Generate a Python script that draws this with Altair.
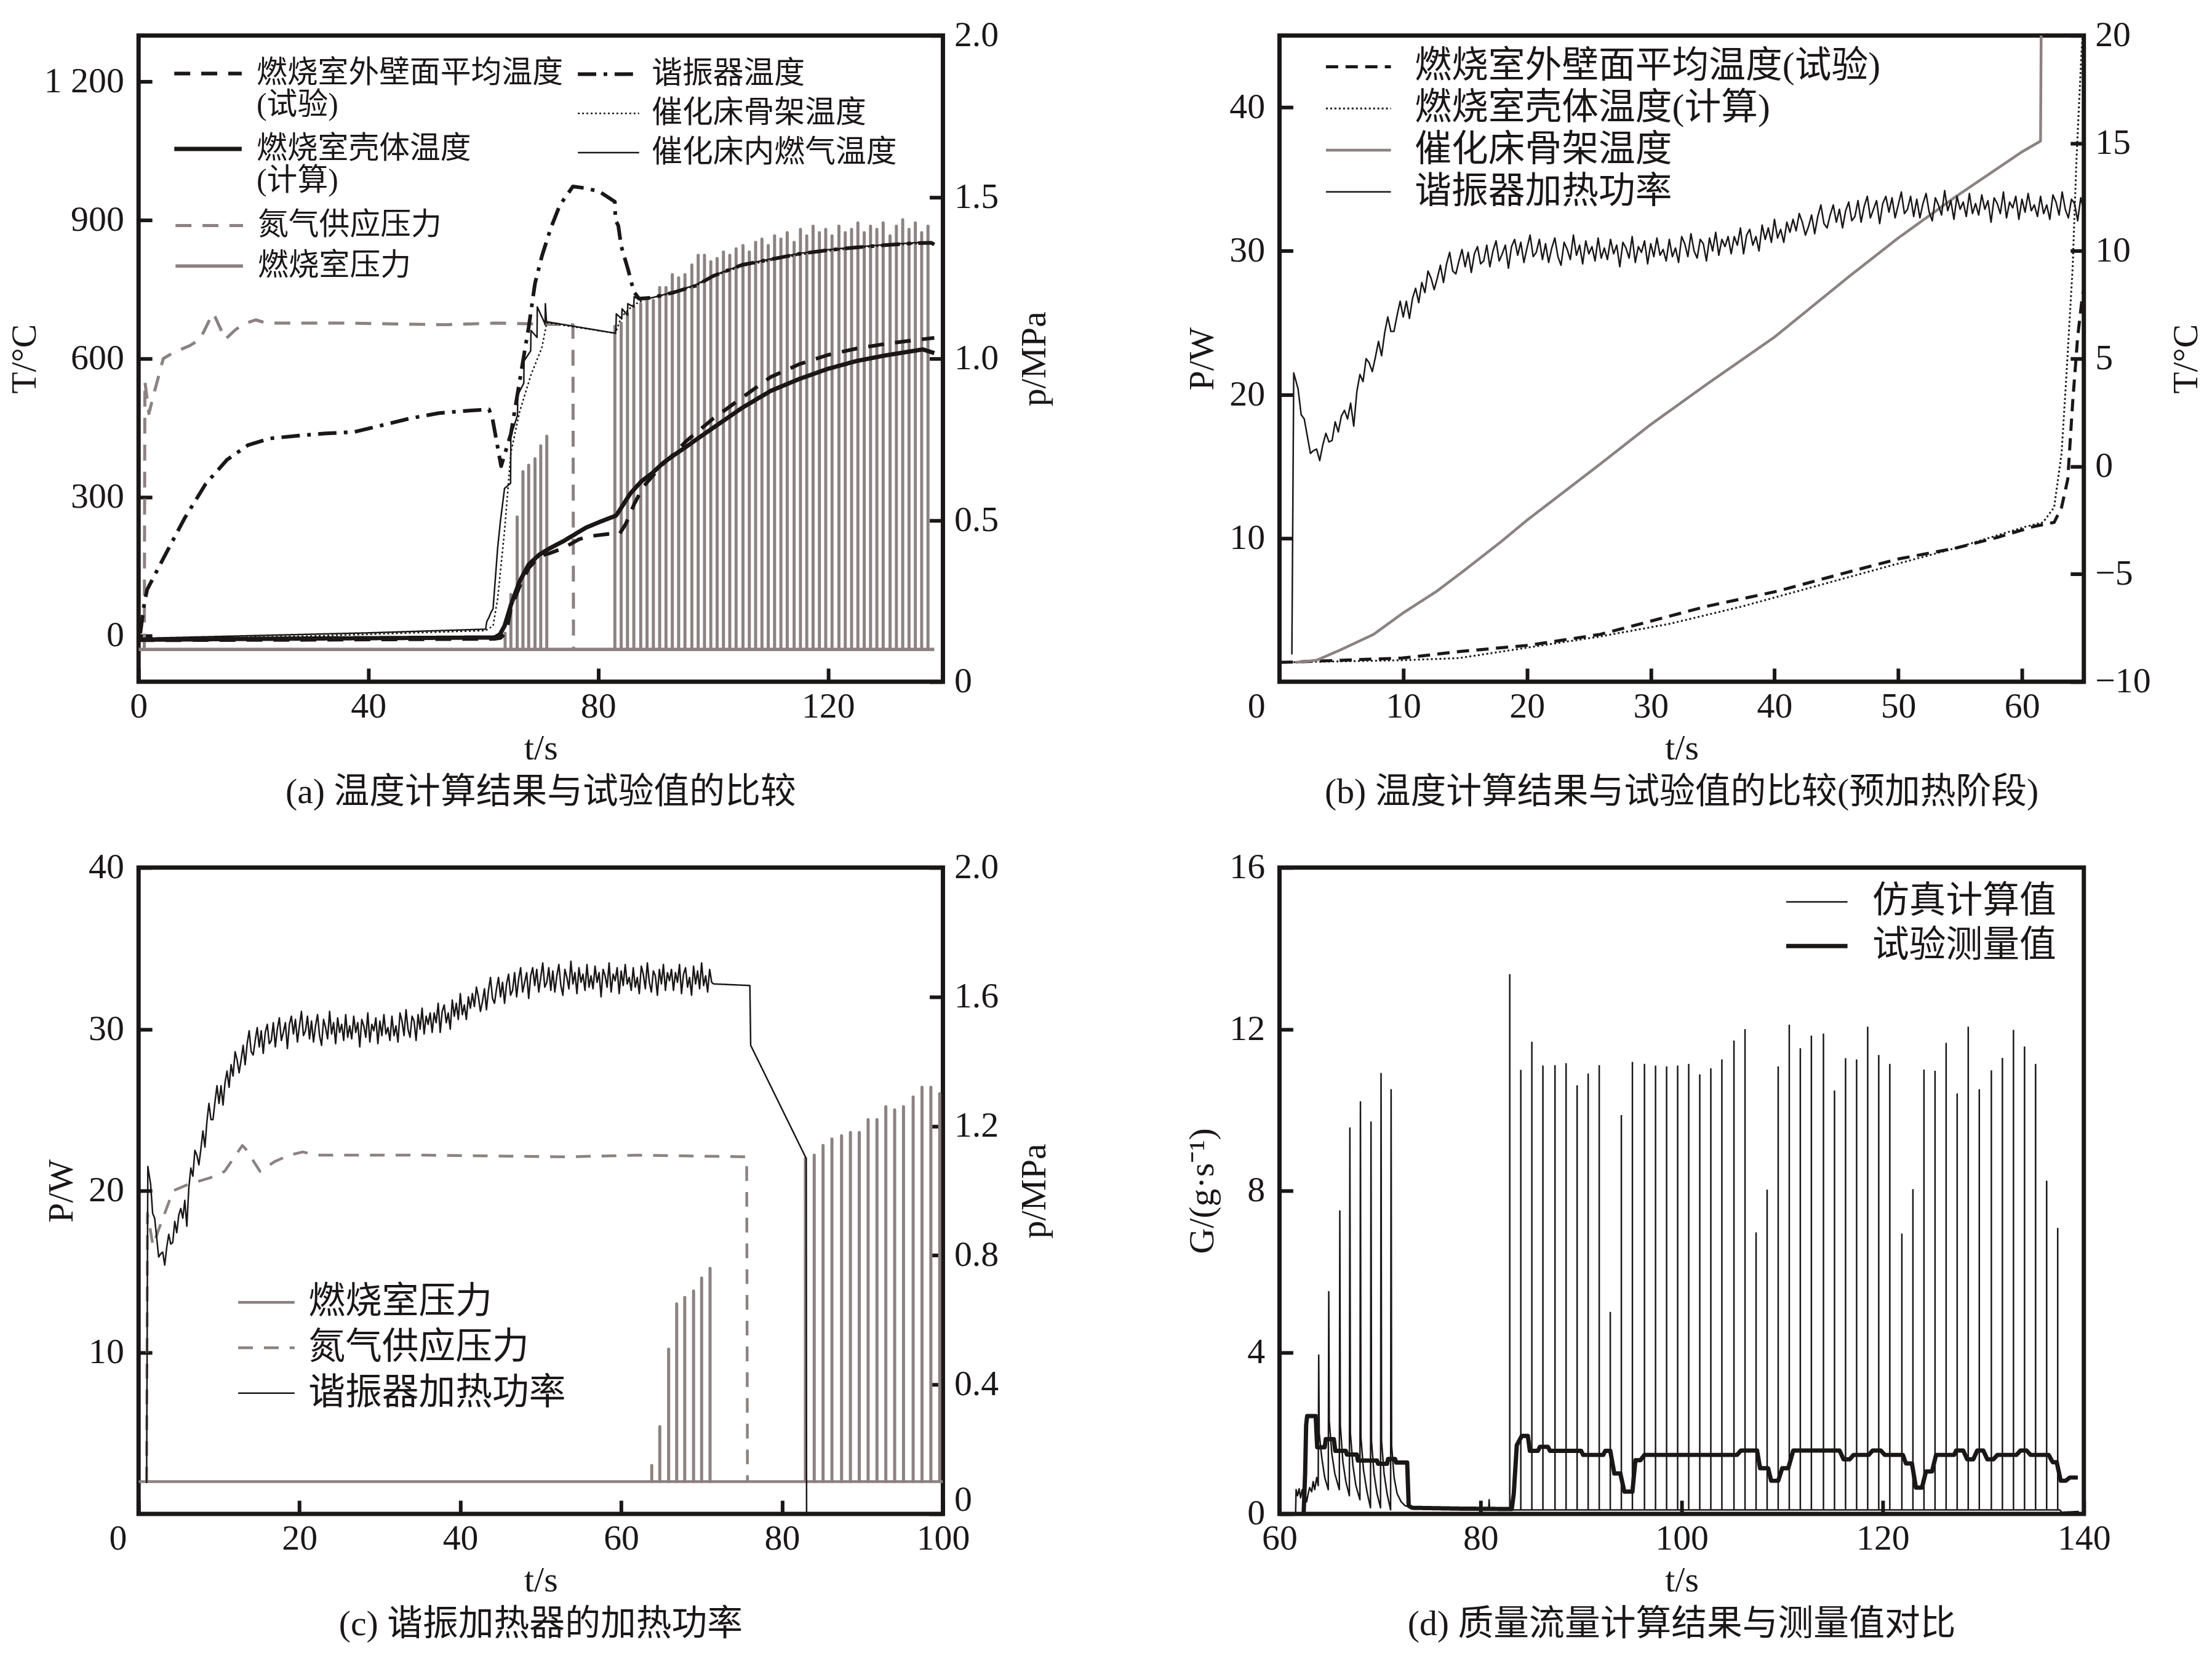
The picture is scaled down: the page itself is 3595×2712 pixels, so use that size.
import altair as alt
import pandas as pd

FONT = "Liberation Serif, Noto Sans CJK SC, serif"
BLACK = "#1b1717"
GRAY = "#8b8281"

# ---------------- shared measured signals ----------------
# resonator heating power P/W (panels b and c), sampled every 0.25 s from 1.5 s to 71.5 s
power_t = [1.0, 1.15] + [1.5 + 0.25 * k for k in range(281)] + [76.0, 76.1, 83.0, 83.05]
power_w = [1.9, 21.5,
    20.4, 18.6, 18.3, 17.1, 15.9, 16.1, 16.2, 15.4, 16.5, 17.3, 16.7, 16.8, 18.1, 17.4, 18.5, 18.9, 18.3, 19.4, 17.8, 20.2,
    21.4, 20.9, 22.5, 22.2, 21.6, 22.6, 23.7, 22.7, 24.3, 25.4, 24.4, 24.4, 25.5, 26.5, 25.4, 26.5, 25.3, 26.7, 27.4, 26.4,
    27.8, 27.1, 28.6, 28.1, 27.3, 28.1, 29.0, 27.8, 29.1, 29.9, 28.6, 28.4, 29.3, 30.1, 28.9, 29.9, 28.5, 29.8, 30.3, 29.1,
    29.3, 30.4, 28.9, 30.0, 30.7, 29.3, 29.8, 30.4, 28.8, 30.3, 30.8, 29.7, 30.6, 29.2, 30.2, 31.1, 29.6, 29.9, 30.8, 29.4,
    30.5, 29.2, 30.2, 30.9, 29.6, 29.0, 30.6, 30.1, 29.4, 31.1, 29.7, 30.4, 29.1, 30.7, 29.8, 30.3, 29.3, 30.9, 29.5, 30.2,
    29.4, 30.8, 29.8, 30.4, 28.9, 30.6, 30.2, 29.5, 31.0, 29.2, 30.3, 29.9, 30.7, 29.1, 30.5, 29.6, 30.9, 29.7, 30.1, 29.3,
    30.8, 29.6, 30.2, 29.2, 31.0, 30.5, 29.6, 31.2, 30.0, 29.5, 30.8, 30.5, 29.3, 30.9, 30.0, 31.3, 29.7, 30.8, 30.3, 31.0,
    29.8, 31.0, 30.4, 31.6, 29.8, 31.1, 31.5, 30.4, 31.0, 30.0, 31.8, 30.8, 31.6, 30.6, 32.2, 30.9, 31.5, 30.6, 32.0, 31.3,
    32.2, 31.4, 32.6, 32.0, 31.1, 31.7, 32.5, 31.2, 32.4, 33.2, 31.9, 31.6, 32.5, 33.2, 32.0, 32.9, 31.6, 32.8, 33.4, 32.1,
    32.4, 33.5, 32.0, 33.1, 33.8, 32.3, 32.9, 33.5, 31.9, 33.3, 33.8, 32.7, 33.7, 32.3, 33.2, 34.1, 32.6, 32.9, 33.8, 32.4,
    33.6, 32.3, 33.3, 34.0, 32.7, 32.1, 33.7, 33.2, 32.5, 34.2, 32.8, 33.5, 32.2, 33.8, 32.9, 33.4, 32.4, 34.0, 32.6, 33.3,
    32.5, 33.9, 32.9, 33.5, 32.0, 33.7, 33.3, 32.6, 34.1, 32.3, 33.4, 33.0, 33.8, 32.2, 33.6, 32.7, 34.0, 32.8, 33.2, 32.4,
    33.8, 32.6, 33.2, 32.2, 33.9, 33.4, 32.5, 34.1, 32.9, 32.3, 33.6, 33.3, 32.1, 33.7, 32.8, 34.0, 32.4, 33.5, 33.0, 33.7,
    32.4, 33.5, 32.9, 34.0, 32.2, 33.4, 33.8, 32.6, 33.2, 32.1, 33.9, 32.8, 33.6, 32.5, 34.1, 32.7, 33.3, 32.3, 33.7, 32.9,
    32.8,
    32.7, 29.0, 22.0, 0.0]

# nitrogen supply pressure p/MPa (panels a and c)
n2_t = [1.0, 1.1, 1.8, 2.5, 4.3, 6.2, 8.9, 10.7, 12.9, 13.3, 15.1, 16.9, 18.7,
        20.4, 22.2, 35.6, 53.3, 62.2, 75.6, 75.7]
n2_p = [0.10, 0.93, 0.83, 0.88, 1.00, 1.02, 1.04, 1.06, 1.14, 1.13, 1.06, 1.09, 1.11,
        1.12, 1.11, 1.11, 1.105, 1.11, 1.105, 0.10]

# combustion chamber pressure: baseline and pulses p/MPa
P_BASE = 0.1
cp_t = [0.0, 138.5]
cp_p = [0.1, 0.1]
pulse_t = [63.8, 64.8, 65.9, 66.9, 67.9, 69.0, 70.0, 71.05,
           82.9, 84.0, 85.1, 86.2, 87.4, 88.5, 89.6, 90.7, 91.8, 92.9,
           94.0, 95.1, 96.3, 97.4, 98.5, 99.6, 100.7, 101.8, 102.9, 104.0,
           105.2, 106.3, 107.4, 108.5, 109.6, 110.7, 111.8, 112.9, 114.1, 115.2,
           116.3, 117.4, 118.5, 119.6, 120.7, 121.9, 123.0, 124.1, 125.2, 126.3,
           127.4, 128.5, 129.6, 130.8, 131.9, 133.0, 134.1, 135.2, 136.3, 137.4]
pulse_p = [0.15, 0.27, 0.51, 0.65, 0.67, 0.69, 0.73, 0.76,
           1.10, 1.11, 1.14, 1.16, 1.17, 1.18, 1.18, 1.22, 1.22, 1.26,
           1.25, 1.26, 1.29, 1.32, 1.32, 1.30, 1.31, 1.33, 1.32, 1.34,
           1.35, 1.33, 1.36, 1.37, 1.35, 1.38, 1.37, 1.39, 1.36, 1.40,
           1.38, 1.41, 1.39, 1.40, 1.38, 1.41, 1.39, 1.40, 1.42, 1.39,
           1.41, 1.40, 1.42, 1.38, 1.41, 1.43, 1.40, 1.42, 1.39, 1.41]

# ---------------- panel (a) temperatures T/°C ----------------
wall_exp_t = [0, 30, 62, 63.0, 64.0, 64.8, 66.3, 67.9, 69.8, 71.7, 74.0, 76.7, 79.0, 81.7,
              83.7, 84.8, 86.3, 87.9, 89.4, 91.3, 93.3, 95.2, 97.1, 100, 105, 110, 115,
              120, 125, 130, 135, 138.5]
wall_exp_T = [-10, -9, -7, -5, 7, 58, 106, 146, 172, 179, 190, 209, 216, 220,
              220, 242, 286, 323, 345, 372, 395, 420, 440, 470, 515, 560, 588,
              608, 622, 632, 640, 645]
shell_calc_t = [0, 20, 40, 62.0, 62.9, 63.7, 64.8, 66.3, 67.9, 69.8, 71.7, 74.0, 76.0, 77.9,
                80.2, 83.1, 83.7, 85.6, 87.5, 89.4, 91.3, 93.3, 95.2, 97.1, 100, 105, 110,
                115, 120, 125, 130, 134, 136.5, 138.5]
shell_calc_T = [-9, -7, -5.5, -4, 3, 21, 66, 117, 154, 176, 190, 205, 220, 234,
                246, 260, 271, 308, 334, 352, 374, 392, 408, 425, 450, 493, 530,
                556, 578, 595, 607, 615, 620, 612]
reson_t = [0.3, 1.0, 1.5, 4.3, 8.0, 11.7, 15.4, 19.1, 22.8, 27.7, 32.6, 37.5, 42.5, 47.4,
           52.3, 57.2, 61.0, 61.6, 63.1, 64.8, 66.9, 67.9, 69.0, 70.2, 71.7, 73.3, 75.6,
           77.9, 80.2, 82.9, 83.0, 83.5, 84.0, 85.2, 86.2, 87.1, 89.4, 93.3, 97, 100,
           105, 110, 115, 120, 125, 130, 135, 138, 138.5]
reson_T = [5, 70, 100, 167, 254, 329, 381, 413, 427, 433, 438, 441, 456, 471,
           482, 487, 490, 470, 367, 437, 594, 668, 763, 822, 881, 932, 973,
           969, 962, 940, 900, 888, 844, 793, 745, 730, 732, 744, 758, 779,
           803, 815, 827, 835, 841, 846, 850, 851, 847]
frame_t = [0, 30, 60.4, 61.7, 62.5, 63.7, 64.8, 66.3, 68.3, 70.2, 70.9, 71.0, 83.0,
           84, 86, 88, 93.3, 97, 100, 105, 110, 115, 120, 125, 130, 135, 138, 138.5]
frame_T = [-8, -1, 11, 21, 80, 227, 396, 484, 565, 624, 668, 678, 655,
           690, 715, 728, 743, 758, 778, 800, 813, 825, 833, 840, 845, 849, 850, 846]
gas_t = [0, 20, 40, 60.4, 60.6, 61.0, 61.4, 61.7, 62.5, 63.0, 63.7, 64.75, 64.8, 65.95,
         66.0, 67.05, 67.1, 68.25, 68.3, 69.35, 69.4, 70.75, 70.8, 71.0, 83.0, 83.1,
         83.15, 84.1, 84.15, 85.1, 85.15, 86.2, 86.25, 87.3, 89.4, 93.3, 97, 100, 105,
         110, 115, 120, 125, 130, 135, 138, 138.5]
gas_T = [-6, 0, 6, 14, 30, 40, 52, 58, 190, 250, 319, 330, 433, 477,
         521, 547, 595, 617, 661, 646, 712, 675, 719, 680, 655, 668,
         697, 686, 708, 694, 719, 712, 734, 727, 732, 745, 760, 780, 803,
         816, 828, 836, 842, 847, 851, 852, 848]

# ---------------- panel (b) pre-heating temperatures T/°C ----------------
b_wall_t = [0.1, 9.9, 14.5, 20.2, 25.9, 29.9, 34.5, 40.2, 46.0, 50.0, 54.6, 58.0, 60.9,
            62.6, 63.2, 63.7, 64.1, 64.5, 64.9, 65.2]
b_wall_T = [-9.1, -8.9, -8.6, -8.3, -7.8, -7.2, -6.5, -5.8, -4.9, -4.3, -3.8, -3.3, -2.8,
            -2.6, -1.9, -0.6, 3.0, 6.0, 8.0, 8.5]
b_shell_t = [0.1, 9.9, 14.5, 20.2, 25.9, 31.6, 37.4, 43.1, 48.8, 54.6, 60.3, 61.7, 62.6,
             63.2, 63.6, 64.1, 64.4, 64.8, 64.9, 65.2]
b_shell_T = [-9.1, -9.0, -8.9, -8.4, -7.9, -7.3, -6.5, -5.6, -4.7, -3.8, -2.8, -2.6, -1.9,
             0.6, 4.3, 9.3, 14.2, 19.1, 20.0, 22.0]
b_frame_t = [1.3, 3.0, 5.0, 7.6, 10.0, 12.7, 15.0, 17.9, 20.0, 25.9, 29.9, 34.5, 40.0,
             46.0, 50.0, 54.6, 60.0, 61.5, 61.6]
b_frame_T = [-9.1, -9.0, -8.5, -7.8, -6.8, -5.8, -4.8, -3.5, -2.5, 0.1, 1.9, 3.8, 6.0,
             8.8, 10.6, 12.5, 14.6, 15.1, 25.0]

# ---------------- panel (d) mass flow G/(g/s) ----------------
sim_t = [61.6, 61.65, 61.8, 61.95, 62.1, 62.25, 62.4, 62.55, 62.7, 62.85, 63.0, 63.2, 63.35,
         63.5, 63.7, 63.85,
         63.9, 63.95, 64.2, 64.5, 64.85,
         64.9, 64.95, 65.2, 65.5, 65.95,
         66.0, 66.05, 66.3, 66.6, 66.95,
         67.0, 67.05, 67.3, 67.6, 68.0,
         68.05, 68.1, 68.35, 68.7, 69.05,
         69.1, 69.15, 69.4, 69.7, 70.05,
         70.1, 70.15, 70.4, 70.7, 71.05,
         71.1, 71.15, 71.4, 71.7, 72.1, 72.5, 73.0, 76.0, 80.8, 80.85, 80.9, 82.85,
         137.6, 137.8, 139.5]
sim_G = [0.0, 0.6, 0.45, 0.62, 0.4, 0.6, 0.35, 0.5, 0.3, 0.5, 0.65, 0.55, 0.8,
         0.6, 0.9, 0.7,
         3.93, 2.0, 1.4, 0.9, 0.6,
         5.5, 2.3, 1.5, 1.0, 0.6,
         7.5, 2.2, 1.3, 0.8, 0.45,
         9.55, 2.0, 1.2, 0.7, 0.35,
         10.2, 1.9, 1.1, 0.55, 0.15,
         9.7, 1.8, 1.0, 0.5, 0.15,
         10.9, 1.8, 1.0, 0.5, 0.1,
         10.5, 1.7, 0.9, 0.5, 0.3, 0.2, 0.17, 0.15, 0.12, 0.35, 0.12, 0.1,
         0.1, 0.04, 0.06]
G_BASE = 0.1
spike_t = pulse_t[8:]
spike_G = [13.36, 10.99, 11.69, 11.10, 11.11, 11.16, 10.61, 10.90, 11.11, 5.0,
           9.87, 11.19, 11.14, 11.10, 11.08, 11.10, 11.14, 10.88, 11.03, 11.25,
           11.72, 12.0, 6.97, 8.03, 11.08, 12.11, 11.53, 11.84, 11.89, 10.48,
           11.28, 11.25, 12.06, 11.36, 11.14, 6.94, 8.04, 11.0, 10.97, 11.66,
           10.41, 12.06, 10.51, 10.98, 11.29, 11.98, 11.57, 11.14, 8.25, 7.08]
exp_t = [62.4, 62.55, 62.65, 62.75, 63.6, 63.7, 63.75, 64.5, 64.6, 65.4, 65.55, 66.6, 66.7,
         67.7, 67.8, 69.7, 69.8, 70.7, 70.8, 71.5, 71.6, 72.7, 72.85, 73.2, 78.0, 83.1,
         83.3, 83.6, 84.1, 84.7, 84.9, 85.7, 85.9, 86.7, 86.9, 90.0, 90.2, 92.2, 92.4,
         92.9, 93.3, 93.9, 94.3, 95.1, 95.4, 95.9, 96.3, 105.5, 105.9, 107.5, 107.8,
         108.6, 108.9, 109.6, 110.0, 110.6, 111.1, 115.7, 116.1, 116.7, 117.1, 118.6,
         119.0, 119.8, 120.2, 122.0, 122.3, 122.9, 123.3, 123.9, 124.3, 124.9, 125.3,
         127.1, 127.3, 128.0, 128.4, 129.0, 129.4, 130.0, 130.4, 131.0, 131.4, 133.3,
         133.7, 134.3, 134.7, 136.5, 136.9, 137.3, 137.7, 138.2, 138.6, 139.4]
exp_G = [0.0, 1.0, 2.2, 2.42, 2.42, 1.9, 1.65, 1.65, 1.85, 1.85, 1.56, 1.56, 1.47,
         1.47, 1.32, 1.32, 1.24, 1.24, 1.36, 1.36, 1.27, 1.27, 0.2, 0.15, 0.13, 0.12,
         0.5, 1.7, 1.93, 1.93, 1.56, 1.56, 1.66, 1.66, 1.56, 1.56, 1.46, 1.46, 1.56,
         1.56, 1.0, 1.0, 0.55, 0.55, 1.33, 1.33, 1.46, 1.46, 1.57, 1.57, 1.13,
         1.13, 0.82, 0.82, 1.13, 1.13, 1.57, 1.57, 1.35, 1.35, 1.46, 1.46,
         1.57, 1.57, 1.46, 1.46, 1.25, 1.25, 0.65, 0.65, 1.05, 1.05, 1.46,
         1.46, 1.57, 1.57, 1.35, 1.35, 1.57, 1.57, 1.35, 1.35, 1.46, 1.46,
         1.57, 1.57, 1.46, 1.46, 1.28, 1.28, 0.82, 0.82, 0.90, 0.90]

# ---------------- labels ----------------
A_WALL = "燃烧室外壁面平均温度|(试验)"
A_SHELL = "燃烧室壳体温度|(计算)"
A_RES = "谐振器温度"
A_FRAME = "催化床骨架温度"
A_GAS = "催化床内燃气温度"
N2 = "氮气供应压力"
CP = "燃烧室压力"
B_WALL = "燃烧室外壁面平均温度(试验)"
B_SHELL = "燃烧室壳体温度(计算)"
B_FRAME = "催化床骨架温度"
POWER = "谐振器加热功率"
SIM = "仿真计算值"
EXP = "试验测量值"

W, H = 1312, 1054
TICK = 22


def sdf(field, name, ts, vs):
    return pd.DataFrame({"t": ts, "v": vs, field: name, "i": list(range(len(ts)))})


def axis(orient, values, title, expr=None, zero_shift=None, fmt=None, title_pad=None):
    kw = dict(orient=orient, values=values, title=title, tickSize=TICK, offset=-TICK,
              tickWidth=6, tickColor=BLACK, domain=False, grid=False,
              labelFont=FONT, titleFont=FONT, labelFontSize=58, titleFontSize=58,
              labelColor=BLACK, titleColor=BLACK, titleFontWeight="normal",
              labelFlush=False, labelOverlap=False)
    if orient == "left":
        kw.update(titleAngle=270, labelPadding=24, titlePadding=14)
    elif orient == "right":
        kw.update(titleAngle=270, titleBaseline="top", labelPadding=18, titlePadding=30)
    else:
        kw.update(labelPadding=12, titlePadding=10)
    if title_pad is not None:
        kw["titlePadding"] = title_pad
    if expr:
        kw["labelExpr"] = expr
    if fmt:
        kw["format"] = fmt
    if zero_shift is not None:
        kw["labelOffset"] = {"condition": {"test": "datum.value === 0", "value": zero_shift}, "value": 0}
    return alt.Axis(**kw)


def legend(x, y, length, fs, rowpad, gap, expr=None):
    # long line symbol drawn with a wide custom path on a small nominal symbol box
    s = length / 4.0
    kw = dict(orient="none", legendX=x + 3 * length / 8.0, legendY=y, title=None,
              symbolType="M-4,0H4", symbolSize=s * s, labelFontSize=fs, labelFont=FONT,
              labelColor=BLACK, labelLimit=3000, rowPadding=rowpad,
              labelOffset=3 * length / 8.0 + gap, padding=0)
    if expr:
        kw["labelExpr"] = expr
    return alt.Legend(**kw)


def lines(df, field, domain, colors, dashes, widths, leg, x, y):
    return alt.Chart(df).mark_line(clip=True, strokeJoin="round").encode(
        x=x, y=y,
        color=alt.Color(f"{field}:N", scale=alt.Scale(domain=domain, range=colors), legend=leg),
        strokeDash=alt.StrokeDash(f"{field}:N", scale=alt.Scale(domain=domain, range=dashes), legend=leg),
        strokeWidth=alt.StrokeWidth(f"{field}:N", scale=alt.Scale(type="ordinal", domain=domain, range=widths), legend=leg),
        order="i:Q",
    )


def caption(text):
    return alt.TitleParams(text=text, orient="bottom", font=FONT, fontSize=58,
                           fontWeight="normal", color=BLACK, offset=14)


SOLID = [1, 0]

# ================= panel (a) =================
xa = alt.X("t:Q", scale=alt.Scale(domain=[0, 140], nice=False),
           axis=axis("bottom", [0, 40, 80, 120], "t/s"))
yT_a = alt.Scale(domain=[-100, 1300], nice=False, zero=False)
yP_a = alt.Scale(domain=[0, 2], nice=False, zero=False)

pa_pulses = pd.DataFrame({"t": pulse_t, "hi": pulse_p})
pa_pulses["lo"] = P_BASE
a_rules = alt.Chart(pa_pulses).mark_rule(color=GRAY, strokeWidth=5, strokeCap="round", clip=True).encode(
    x=xa, y=alt.Y("lo:Q", scale=yP_a, axis=None), y2="hi:Q")

a3_df = pd.concat([sdf("sa3", N2, n2_t, n2_p), sdf("sa3", CP, cp_t, cp_p)])
a3 = lines(a3_df, "sa3", [N2, CP], [GRAY, GRAY], [[26, 18], SOLID], [5, 5.5],
           legend(49, 285, 110, 50, 16, 13), xa,
           alt.Y("v:Q", scale=yP_a, axis=axis("right", [0, 0.5, 1.0, 1.5, 2.0], "p/MPa",
                 "datum.value == 0 ? '0' : format(datum.value, '.1f')")))

a2_df = pd.concat([sdf("sa2", A_RES, reson_t, reson_T), sdf("sa2", A_FRAME, frame_t, frame_T),
                   sdf("sa2", A_GAS, gas_t, gas_T)])
a2 = lines(a2_df, "sa2", [A_RES, A_FRAME, A_GAS], [BLACK, BLACK, BLACK],
           [[30, 12, 6, 12], [3, 4], SOLID], [6, 2.5, 2.5],
           legend(704, 38, 100, 50, 14, 8), xa,
           alt.Y("v:Q", scale=yT_a, axis=None))

a1_df = pd.concat([sdf("sa1", A_WALL, wall_exp_t, wall_exp_T),
                   sdf("sa1", A_SHELL, shell_calc_t, shell_calc_T)])
a1 = lines(a1_df, "sa1", [A_WALL, A_SHELL], [BLACK, BLACK], [[26, 18], SOLID], [6, 7],
           legend(47, 37, 110, 50, 21, 13, "split(datum.label, '|')"), xa,
           alt.Y("v:Q", scale=yT_a, axis=axis("left", [0, 300, 600, 900, 1200], "T/°C",
                 "replace(format(datum.value, ','), ',', ' ')", title_pad=2)))

pa = alt.layer(a_rules, a3, a2, a1).resolve_scale(
    y="independent", color="independent", strokeDash="independent", strokeWidth="independent"
).properties(width=W, height=H, title=caption("(a) 温度计算结果与试验值的比较"))

# ================= panel (b) =================
xb = alt.X("t:Q", scale=alt.Scale(domain=[0, 65], nice=False),
           axis=axis("bottom", [0, 10, 20, 30, 40, 50, 60], "t/s", zero_shift=-38))
b_dom = [B_WALL, B_SHELL, B_FRAME, POWER]
b_col = [BLACK, BLACK, GRAY, BLACK]
b_dash = [[20, 12], [3, 4], SOLID, SOLID]
b_wid = [5, 3, 4.5, 2.5]
b_leg = legend(59, 21, 106, 60, 8, 22)

b_pow = lines(sdf("sb", POWER, power_t, power_w), "sb", b_dom, b_col, b_dash, b_wid, b_leg, xb,
              alt.Y("v:Q", scale=alt.Scale(domain=[0, 45], nice=False, zero=False),
                    axis=axis("left", [10, 20, 30, 40], "P/W")))
b_tmp_df = pd.concat([sdf("sb", B_WALL, b_wall_t, b_wall_T), sdf("sb", B_SHELL, b_shell_t, b_shell_T),
                      sdf("sb", B_FRAME, b_frame_t, b_frame_T)])
b_tmp = lines(b_tmp_df, "sb", b_dom, b_col, b_dash, b_wid, b_leg, xb,
              alt.Y("v:Q", scale=alt.Scale(domain=[-10, 20], nice=False, zero=False),
                    axis=axis("right", [-10, -5, 0, 5, 10, 15, 20], "T/°C",
                              "replace(format(datum.value, 'd'), '-', '–')")))
pb = alt.layer(b_tmp, b_pow).resolve_scale(y="independent").properties(
    width=W, height=H, title=caption("(b) 温度计算结果与试验值的比较(预加热阶段)"))

# ================= panel (c) =================
xc = alt.X("t:Q", scale=alt.Scale(domain=[0, 100], nice=False),
           axis=axis("bottom", [0, 20, 40, 60, 80, 100], "t/s", zero_shift=-34))
yP_c = alt.Scale(domain=[0, 2], nice=False, zero=False)
c_dom = [CP, N2, POWER]
c_col = [GRAY, GRAY, BLACK]
c_dash = [SOLID, [24, 18], SOLID]
c_wid = [4.5, 4.5, 2.5]
c_leg = legend(144, 679, 92, 60, 14, 4)

pc_pulses = pd.DataFrame({"t": pulse_t, "hi": pulse_p})
pc_pulses = pc_pulses[pc_pulses["t"] <= 100].copy()
pc_pulses["lo"] = P_BASE
c_rules = alt.Chart(pc_pulses).mark_rule(color=GRAY, strokeWidth=5, strokeCap="round", clip=True).encode(
    x=xc, y=alt.Y("lo:Q", scale=yP_c, axis=None), y2="hi:Q")
c_p_df = pd.concat([sdf("sc", CP, [0.0, 100.0], [0.1, 0.1]), sdf("sc", N2, n2_t, n2_p)])
c_p = lines(c_p_df, "sc", c_dom, c_col, c_dash, c_wid, c_leg, xc,
            alt.Y("v:Q", scale=yP_c, axis=axis("right", [0, 0.4, 0.8, 1.2, 1.6, 2.0], "p/MPa",
                  "datum.value == 0 ? '0' : format(datum.value, '.1f')", zero_shift=-22)))
c_pow = lines(sdf("sc", POWER, power_t, power_w), "sc", c_dom, c_col, c_dash, c_wid, c_leg, xc,
              alt.Y("v:Q", scale=alt.Scale(domain=[0, 40], nice=False, zero=False),
                    axis=axis("left", [10, 20, 30, 40], "P/W")))
pc = alt.layer(c_rules, c_p, c_pow).resolve_scale(y="independent").properties(
    width=W, height=H, title=caption("(c) 谐振加热器的加热功率"))

# ================= panel (d) =================
xd = alt.X("t:Q", scale=alt.Scale(domain=[60, 140], nice=False),
           axis=axis("bottom", [60, 80, 100, 120, 140], "t/s", fmt="d"))
yd = alt.Y("v:Q", scale=alt.Scale(domain=[0, 16], nice=False, zero=False),
           axis=axis("left", [0, 4, 8, 12, 16], "G/(g·s⁻¹)", fmt="d"))
d_dom = [SIM, EXP]
d_leg = legend(809, 26, 100, 60, 12, 23)
d_sim = lines(sdf("sd", SIM, sim_t, sim_G), "sd", d_dom, [BLACK, BLACK], [SOLID, SOLID], [2.5, 7],
              d_leg, xd, yd)
pd_sp = pd.DataFrame({"t": spike_t, "hi": spike_G})
pd_sp["lo"] = G_BASE
d_rules = alt.Chart(pd_sp).mark_rule(color=BLACK, strokeWidth=2.5, clip=True).encode(
    x=xd, y=alt.Y("lo:Q", scale=alt.Scale(domain=[0, 16], nice=False, zero=False)), y2="hi:Q")
d_exp = lines(sdf("sd", EXP, exp_t, exp_G), "sd", d_dom, [BLACK, BLACK], [SOLID, SOLID], [2.5, 7],
              d_leg, xd, yd)
pdd = alt.layer(d_sim, d_rules, d_exp).properties(
    width=W, height=H, title=caption("(d) 质量流量计算结果与测量值对比"))

# ================= layout =================
chart = alt.concat(pa, pb, pc, pdd, columns=2, spacing={"row": 303, "column": 549},
                   bounds="flush").resolve_scale(
    color="independent", strokeDash="independent", strokeWidth="independent"
).properties(
    padding={"top": 12, "left": 0, "right": 0, "bottom": 0}, background="white"
).configure_view(stroke=BLACK, strokeWidth=7)

chart.save("out.html", embed_options={"renderer": "svg", "actions": False})
